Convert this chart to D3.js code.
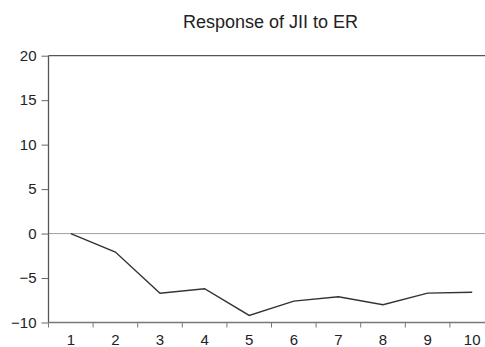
<!DOCTYPE html>
<html><head><meta charset="utf-8">
<script src="https://cdn.jsdelivr.net/npm/d3@7"></script>
<style>body{margin:0;background:#fff}svg{display:block}text{font-family:"Liberation Sans",Arial,sans-serif}</style>
</head><body><svg id="c" width="485" height="347"></svg>
<script>
const periods = [1,2,3,4,5,6,7,8,9,10];
const response = [0,-2.08,-6.7,-6.2,-9.2,-7.6,-7.1,-8.0,-6.7,-6.6];
const yTicks = [-10,-5,0,5,10,15,20];
const title = "Response of JII to ER";

const svg = d3.select("#c");
const L = 48.5, R = 494.5, T = 55.7, B = 322.5;
const x = d3.scaleBand().domain(periods).range([L, R]);
const y = d3.scaleLinear().domain([-10, 20]).range([B, T]);

svg.append("text").attr("x", 270.5).attr("y", 28).attr("text-anchor","middle")
  .attr("font-size", 18).attr("fill","#222").text(title);

// zero line
svg.append("line").attr("x1", L).attr("x2", 485).attr("y1", y(0)).attr("y2", y(0))
  .attr("stroke","#a0a0a0").attr("stroke-width",1);

// top border
svg.append("line").attr("x1", L).attr("x2", 485).attr("y1", T).attr("y2", T)
  .attr("stroke","#555").attr("stroke-width",1.3);

// y axis
const ya = svg.append("g").attr("transform",`translate(${L},0)`)
  .call(d3.axisLeft(y).tickValues(yTicks).tickSize(7).tickPadding(5).tickFormat(d3.format("d")));
ya.select(".domain").attr("stroke","#555").attr("stroke-width",1.3).attr("d",`M0,${B}V${T}`);
ya.selectAll(".tick line").attr("stroke","#666");
ya.selectAll(".tick text").attr("font-size",15).attr("fill","#222").attr("font-family",'"Liberation Sans",Arial,sans-serif');

// x axis
const xa = svg.append("g").attr("transform",`translate(0,${B})`);
xa.append("line").attr("x1", L).attr("x2", 485).attr("y1",0).attr("y2",0).attr("stroke","#777").attr("stroke-width",1.6);
xa.selectAll(".xt").data(periods).join("line").attr("class","xt")
  .attr("x1", d => x(d)).attr("x2", d => x(d)).attr("y1",0).attr("y2",5).attr("stroke","#777");
xa.selectAll(".xl").data(periods).join("text").attr("class","xl")
  .attr("x", d => x(d) + x.bandwidth()/2).attr("y", 22).attr("text-anchor","middle")
  .attr("font-size",15).attr("fill","#222").text(d => d);

// data line
const line = d3.line().x((d,i) => x(periods[i]) + x.bandwidth()/2).y(d => y(d));
svg.append("path").datum(response).attr("d", line).attr("fill","none")
  .attr("stroke","#333").attr("stroke-width",1.4);
</script></body></html>
